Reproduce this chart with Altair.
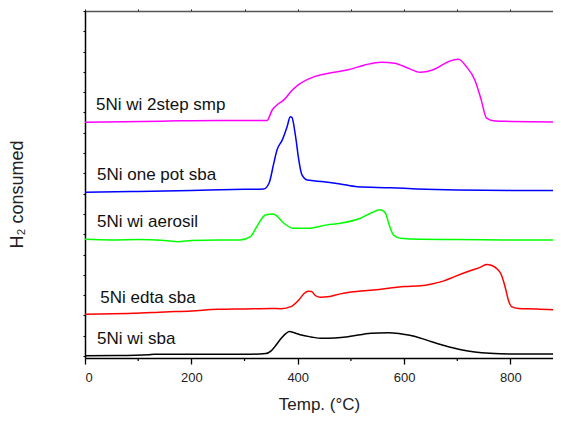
import altair as alt
import pandas as pd

# ---- data (y in arbitrary units, curves offset) ----
series_names = ["5Ni wi sba", "5Ni edta sba", "5Ni wi aerosil", "5Ni one pot sba", "5Ni wi 2step smp"]
series_colors = ["#000000", "#FF0000", "#00FF00", "#0000FF", "#FF00FF"]

t_wi_sba = [0, 60, 120, 130, 200, 300, 340, 350, 357, 369, 378, 384, 395, 407, 425, 444, 470, 495, 538,
            570, 590, 608, 630, 652, 675, 695, 720, 746, 780, 808, 850, 880]
h_wi_sba = [0.01, 0.02, 0.06, 0.08, 0.09, 0.08, 0.12, 0.25, 0.46, 0.87, 1.11, 1.20, 1.13, 1.03, 0.94, 0.87,
            0.89, 0.95, 1.12, 1.15, 1.11, 1.03, 0.89, 0.70, 0.52, 0.38, 0.25, 0.16, 0.11, 0.10, 0.10, 0.10]

t_edta = [0, 90, 150, 200, 250, 300, 350, 369, 387, 402, 412, 420, 426, 433, 443, 460, 480, 500, 543, 601,
          631, 652, 675, 695, 720, 746, 755, 765, 775, 783, 790, 796, 802, 815, 850, 880]
h_edta = [2.06, 2.10, 2.17, 2.22, 2.30, 2.32, 2.34, 2.33, 2.43, 2.76, 3.08, 3.19, 3.18, 2.98, 2.89, 2.93,
          3.06, 3.15, 3.25, 3.42, 3.46, 3.55, 3.70, 3.91, 4.16, 4.40, 4.51, 4.46, 4.29, 3.99, 3.40, 2.76,
          2.43, 2.34, 2.32, 2.28]

t_aerosil = [0, 50, 100, 150, 175, 200, 250, 292, 311, 323, 339, 352, 358, 374, 392, 418, 455, 480, 518,
             537, 555, 565, 571, 580, 593, 631, 700, 800, 880]
h_aerosil = [5.75, 5.72, 5.74, 5.69, 5.63, 5.69, 5.72, 5.72, 5.88, 6.37, 6.95, 7.00, 6.95, 6.54, 6.29, 6.29,
             6.46, 6.54, 6.79, 7.03, 7.20, 7.03, 6.54, 5.96, 5.80, 5.75, 5.74, 5.72, 5.72]

t_onepot = [0, 100, 200, 300, 336, 346, 355, 361, 371, 380, 386, 389, 396, 402, 408, 418, 449, 480, 512,
            574, 624, 700, 800, 880]
h_onepot = [8.07, 8.11, 8.16, 8.21, 8.23, 8.51, 9.50, 10.15, 10.65, 11.30, 11.79, 11.76, 10.81, 9.66, 8.92,
            8.67, 8.59, 8.48, 8.34, 8.29, 8.23, 8.18, 8.16, 8.15]

t_2step = [0, 143, 250, 342, 352, 361, 374, 389, 401, 432, 463, 495, 526, 557, 582, 608, 630, 658, 683,
           702, 717, 733, 745, 755, 771, 800, 880]
h_2step = [11.52, 11.57, 11.61, 11.60, 12.12, 12.37, 12.62, 13.08, 13.36, 13.77, 13.96, 14.10, 14.34, 14.48,
           14.43, 14.18, 13.98, 14.14, 14.50, 14.62, 14.26, 13.60, 12.62, 11.72, 11.58, 11.56, 11.53]

label_texts = ["5Ni wi 2step smp", "5Ni one pot sba", "5Ni wi aerosil", "5Ni edta sba", "5Ni wi sba"]
label_t = [20.7, 22.6, 22.6, 28.8, 22.6]
label_h = [12.12, 8.67, 6.37, 2.63, 0.59]

major_ticks = [0, 200, 400, 600, 800]
minor_ticks = [100, 300, 500, 700]
top_ticks = [0, 100, 200, 300, 400, 500, 600, 700, 800]
left_ticks = list(range(0, 18))

# ---- build tables ----
rows = []
for name, ts, hs in [("5Ni wi sba", t_wi_sba, h_wi_sba),
                     ("5Ni edta sba", t_edta, h_edta),
                     ("5Ni wi aerosil", t_aerosil, h_aerosil),
                     ("5Ni one pot sba", t_onepot, h_onepot),
                     ("5Ni wi 2step smp", t_2step, h_2step)]:
    for t, h in zip(ts, hs):
        rows.append({"series": name, "temp": t, "h2": h})
df = pd.DataFrame(rows)
df_labels = pd.DataFrame({"text": label_texts, "temp": label_t, "h2": label_h})
df_minor = pd.DataFrame({"temp": minor_ticks})

FONT = "Liberation Sans"
x_scale = alt.Scale(domain=[0, 880], nice=False, zero=False)
y_scale = alt.Scale(domain=[-0.1, 17], nice=False, zero=False)

lines = alt.Chart(df).mark_line(strokeWidth=1.5, clip=True, interpolate="monotone").encode(
    x=alt.X("temp:Q", scale=x_scale,
            axis=alt.Axis(orient="bottom", values=major_ticks, tickSize=6, tickWidth=1.3,
                          domainWidth=1.3, labelFontSize=13, labelPadding=7, labelFont=FONT,
                          labelColor="#222", title="Temp. (\u00b0C)", titleFont=FONT,
                          titleFontSize=17, titleFontWeight="normal", titleBaseline="alphabetic",
                          titleY=51, titleColor="#222", grid=False)),
    y=alt.Y("h2:Q", scale=y_scale,
            axis=alt.Axis(orient="left", values=left_ticks, labels=False, tickSize=2,
                          domainWidth=1.5, title="H\u2082 consumed", titleFont=FONT,
                          titleFontSize=18, titleFontWeight="normal", titleAngle=270,
                          titleAlign="center", titleBaseline="alphabetic", titleX=-63,
                          titleY=183, titleColor="#222", grid=False)),
    color=alt.Color("series:N", scale=alt.Scale(domain=series_names, range=series_colors), legend=None),
)

minor = alt.Chart(df_minor).mark_rule(color="black", strokeWidth=1.2).encode(
    x=alt.X("temp:Q", scale=x_scale,
            axis=alt.Axis(orient="top", values=top_ticks, labels=False, tickSize=2, title=None,
                          domainColor="#555", domainWidth=1.5, tickColor="#111", grid=False)),
    y=alt.value(347),
    y2=alt.value(350),
)

texts = alt.Chart(df_labels).mark_text(align="left", baseline="alphabetic", font=FONT,
                                       fontSize=17, color="#111").encode(
    x=alt.X("temp:Q", scale=x_scale, axis=None),
    y=alt.Y("h2:Q", scale=y_scale, axis=None),
    text="text:N",
)

chart = alt.layer(lines, minor, texts).resolve_axis(x="independent", y="independent").properties(
    width=468, height=347,
    autosize=alt.AutoSizeParams(type="none"),
    padding={"left": 77, "top": 3, "right": 0, "bottom": 55},
).configure_view(stroke=None).configure_axis(domainColor="black", tickColor="black")

chart.save("out.html", embed_options={"renderer": "svg", "actions": False})
